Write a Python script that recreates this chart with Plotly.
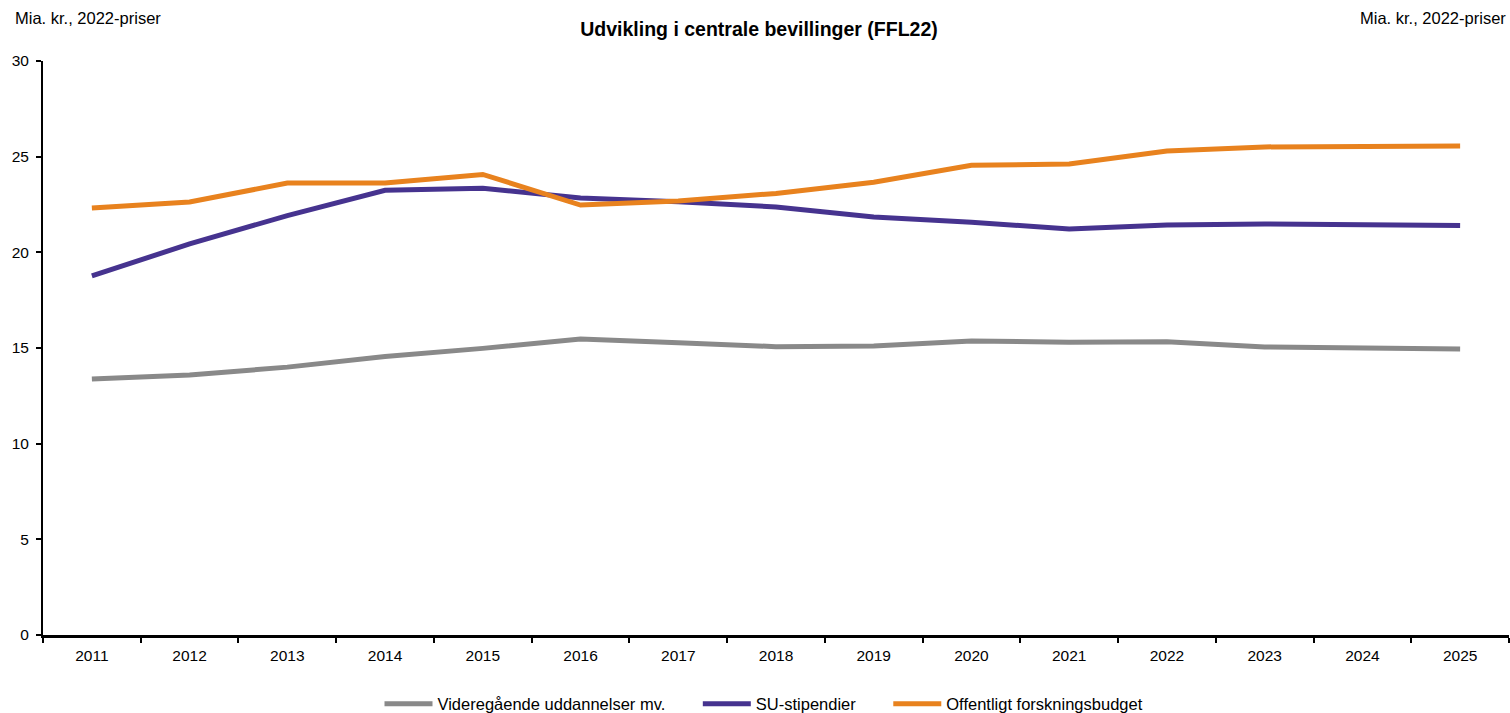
import plotly.graph_objects as go

years = [str(y) for y in range(2011, 2026)]
videregaaende = [13.38, 13.59, 14.0, 14.55, 14.98, 15.47, 15.28, 15.07, 15.1, 15.37, 15.3, 15.33, 15.05, 15.0, 14.95]
su_stipendier = [18.77, 20.44, 21.92, 23.24, 23.35, 22.84, 22.65, 22.37, 21.85, 21.57, 21.22, 21.43, 21.48, 21.45, 21.4]
forskning = [22.32, 22.63, 23.62, 23.62, 24.07, 22.47, 22.68, 23.08, 23.66, 24.55, 24.62, 25.3, 25.51, 25.55, 25.56]

series = [
    ("Videregående uddannelser mv.", videregaaende, "#898989"),
    ("SU-stipendier", su_stipendier, "#46338f"),
    ("Offentligt forskningsbudget", forskning, "#e8821e"),
]

PAD = "\u00a0" * 6
fig = go.Figure()
for i, (name, vals, col) in enumerate(series):
    label = name + (PAD if i < len(series) - 1 else "")
    fig.add_trace(go.Scatter(x=years, y=vals, name=label, mode="lines",
                             line=dict(color=col, width=5)))

W, H = 1510, 713
L, R, T, B = 43, 1, 61, 78
ph = H - T - B
pw = W - L - R

font = "Liberation Sans, Arial, sans-serif"
fig.update_layout(
    width=W, height=H,
    paper_bgcolor="white", plot_bgcolor="white",
    margin=dict(l=L, r=R, t=T, b=B, autoexpand=False),
    font=dict(family=font, size=15.5, color="black"),
    title=dict(text="<b>Udvikling i centrale bevillinger (FFL22)</b>", x=759 / W, xanchor="center",
               y=1 - 29 / H, yanchor="middle", font=dict(size=19.5, family=font)),
    showlegend=True,
    legend=dict(orientation="h", x=(764 - L) / pw, xanchor="center",
                y=-(704 - 635) / ph, yanchor="middle",
                font=dict(size=16.5), itemwidth=48, tracegroupgap=0),
    xaxis=dict(type="category", range=[-0.5, 14.5], showgrid=False, showline=True,
               linecolor="black", linewidth=3,
               ticks="outside", tickson="boundaries", ticklen=5, tickwidth=2, tickcolor="black",
               zeroline=False, tickfont=dict(size=15.5), ticklabelstandoff=4),
    yaxis=dict(range=[0, 30], dtick=5, showgrid=False, showline=True, linecolor="black", linewidth=2,
               ticks="outside", ticklen=5, tickwidth=2, tickcolor="black", zeroline=False,
               tickfont=dict(size=15.5), ticklabelstandoff=4),
)
fig.add_annotation(text="Mia. kr., 2022-priser", xref="paper", yref="paper", x=0, y=1,
                   xshift=-(L - 13), yshift=(T - 18), xanchor="left", yanchor="middle", showarrow=False,
                   font=dict(size=16.5))
fig.add_annotation(text="Mia. kr., 2022-priser", xref="paper", yref="paper", x=1, y=1,
                   xshift=-1, yshift=(T - 18), xanchor="right", yanchor="middle", showarrow=False,
                   font=dict(size=16.5))
fig.write_html("out.html", config={"displayModeBar": False},
               post_script="document.body.style.margin='0';document.body.style.overflow='hidden';")
